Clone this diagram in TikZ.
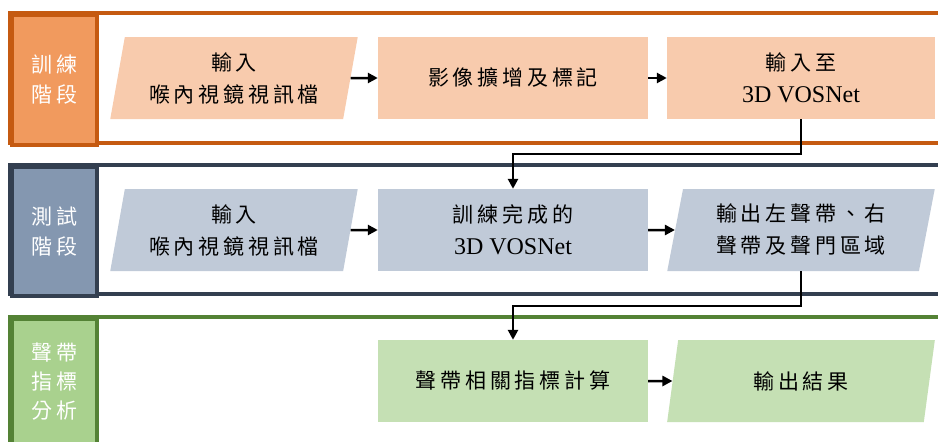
\documentclass[tikz,border=0pt]{standalone}
\usepackage{fontspec}
\setmainfont{Liberation Serif}
\newfontfamily\cjk[LetterSpace=18]{Noto Sans CJK TC}
\usetikzlibrary{shapes.geometric,arrows.meta}
\definecolor{obord}{HTML}{C55A11}
\definecolor{olab}{HTML}{F19A5E}
\definecolor{obox}{HTML}{F8CBAD}
\definecolor{bbord}{HTML}{333F50}
\definecolor{blab}{HTML}{8497B0}
\definecolor{bbox}{HTML}{C0CAD8}
\definecolor{gbord}{HTML}{548235}
\definecolor{glab}{HTML}{A9D18E}
\definecolor{gbox}{HTML}{C5E0B4}
\tikzset{
  frame/.style={line width=3.5pt},
  labbox/.style={line width=3.5pt, anchor=north west, minimum width=85pt, text=white, align=center, font=\fontsize{21}{30}\selectfont\cjk, inner sep=0pt},
  rectbox/.style={minimum width=270pt, minimum height=82pt, align=center, font=\fontsize{21}{32}\selectfont, inner sep=0pt, text=black},
  parabox/.style={trapezium, trapezium left angle=77.6, trapezium right angle=102.4, trapezium stretches=true, minimum width=248pt, minimum height=82pt, align=center, font=\fontsize{21}{32}\selectfont, inner sep=0pt, text=black},
  arr/.style={line width=2.5pt, -{Triangle[length=10pt,width=10pt]}},
}
\begin{document}
\begin{tikzpicture}[x=1pt,y=-1pt]
\useasboundingbox (0,0) rectangle (938,442);
\clip (0,0) rectangle (938,442);
\fill[white] (0,0) rectangle (938,442);
% frames
\draw[frame, draw=obord] (10,13) rectangle (960,143);
\draw[frame, draw=bbord] (10,165) rectangle (960,294);
\draw[frame, draw=gbord] (10,317) rectangle (960,470);
% label boxes
\node[labbox, draw=obord, fill=olab, minimum height=130pt] (l1) at (10,13) {訓練\\階段};
\node[labbox, draw=bbord, fill=blab, minimum height=129pt] (l2) at (10,165) {測試\\階段};
\node[labbox, draw=gbord, fill=glab, minimum height=125pt, anchor=north west, font=\fontsize{21}{29}\selectfont\cjk] (l3) at (10,317) {聲帶\\指標\\分析};
% row 1
\node[parabox, fill=obox] (a1) at (234,78) {{\cjk 輸入}\\{\cjk 喉內視鏡視訊檔}};
\node[rectbox, fill=obox] (a2) at (513,78) {\cjk 影像擴增及標記};
\node[rectbox, fill=obox, minimum width=268pt] (a3) at (801,78) {{\cjk 輸入至}\\\fontsize{24}{32}\selectfont 3D VOSNet};
% row 2
\node[parabox, fill=bbox] (b1) at (234,230) {{\cjk 輸入}\\{\cjk 喉內視鏡視訊檔}};
\node[rectbox, fill=bbox] (b2) at (513,230) {{\cjk 訓練完成的}\\\fontsize{24}{32}\selectfont 3D VOSNet};
\node[parabox, fill=bbox, minimum width=268pt] (b3) at (801,230) {{\cjk 輸出左聲帶、右}\\{\cjk 聲帶及聲門區域}};
% row 3
\node[rectbox, fill=gbox] (c2) at (513,381) {\cjk 聲帶相關指標計算};
\node[parabox, fill=gbox, minimum width=268pt] (c3) at (801,381) {\cjk 輸出結果};
% arrows
\draw[arr] (a1.east) -- (a2.west);
\draw[arr] (a2.east) -- (a3.west);
\draw[arr] (b1.east) -- (b2.west);
\draw[arr] (b2.east) -- (b3.west);
\draw[arr] (c2.east) -- (c3.west);
\draw[arr] (a3.south) -- ++(0,35) -| (b2.north);
\draw[arr] (b3.south) -- ++(0,35) -| (c2.north);
\end{tikzpicture}
\end{document}
